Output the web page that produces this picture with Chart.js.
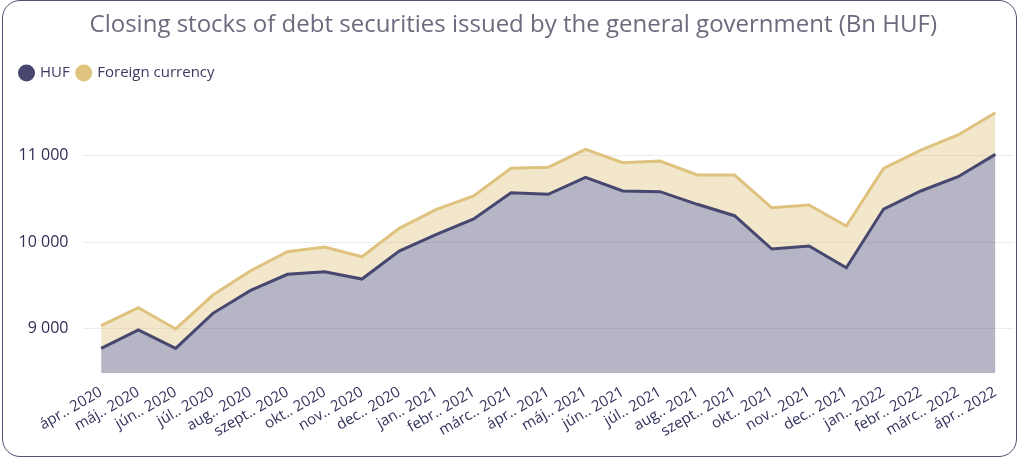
<!DOCTYPE html>
<html>
<head>
<meta charset="utf-8">
<script src="https://cdn.jsdelivr.net/npm/chart.js@4.4.1/dist/chart.umd.min.js"></script>
<style>
  html, body { margin: 0; padding: 0; background: #ffffff; }
  #frame { position: absolute; left: 2px; top: 0px; width: 1015px; height: 457px; box-sizing: border-box;
           border: 1.5px solid #4f4f74; border-radius: 18px; }
  #c { position: absolute; left: 0; top: 0; }
</style>
</head>
<body>
<div id="frame"></div>
<canvas id="c" width="1020" height="459"></canvas>
<script>
const titleText = 'Closing stocks of debt securities issued by the general government (Bn HUF)';
const categories = ['ápr.. 2020','máj.. 2020','jún.. 2020','júl.. 2020','aug.. 2020','szept.. 2020','okt.. 2020','nov.. 2020','dec.. 2020','jan.. 2021','febr.. 2021','márc.. 2021','ápr.. 2021','máj.. 2021','jún.. 2021','júl.. 2021','aug.. 2021','szept.. 2021','okt.. 2021','nov.. 2021','dec.. 2021','jan.. 2022','febr.. 2022','márc.. 2022','ápr.. 2022'];
const seriesNames = ['HUF', 'Foreign currency'];
const hufValues = [8773,8985,8773,9178,9440,9630,9660,9575,9899,10093,10270,10574,10555,10752,10594,10586,10440,10308,9922,9957,9706,10385,10594,10759,11018];
const foreignValues = [262,258,224,212,228,261,285,258,263,289,266,282,313,324,327,355,339,471,478,475,483,471,474,483,482];
const yTickValues = [9000, 10000, 11000];

const navy = '#474770';
const tan = '#dfc27e';

function fmt(v) { return String(v).replace(/\B(?=(\d{3})+(?!\d))/g, ' '); }

new Chart(document.getElementById('c'), {
  type: 'line',
  data: {
    labels: categories,
    datasets: [
      { label: seriesNames[0], data: hufValues, borderColor: navy, backgroundColor: 'rgba(71,71,112,0.4)',
        borderWidth: 3, pointRadius: 0, tension: 0, fill: 'start' },
      { label: seriesNames[1], data: foreignValues, borderColor: tan, backgroundColor: 'rgba(223,194,126,0.4)',
        borderWidth: 3, pointRadius: 0, tension: 0, fill: '-1' }
    ]
  },
  options: {
    responsive: false,
    animation: false,
    layout: { padding: { left: 12.5, right: 6, top: 0, bottom: 16.5 } },
    plugins: {
      title: { display: true, text: titleText, color: '#6b6b7e',
               font: { family: 'Open Sans', size: 24, weight: 'normal' }, padding: { top: 11, bottom: 17.7 } },
      legend: { display: true, align: 'start',
        labels: { usePointStyle: true, pointStyle: 'circle', boxWidth: 12, boxHeight: 12, padding: 8,
                  color: '#3a3a62', font: { family: 'Open Sans', size: 15 },
                  generateLabels: (chart) => chart.data.datasets.map((ds, i) => ({
                    text: ds.label, fillStyle: ds.borderColor, strokeStyle: ds.borderColor, lineWidth: 0,
                    pointStyle: 'circle', datasetIndex: i, hidden: false, fontColor: '#3a3a62' })) } },
      tooltip: { enabled: false }
    },
    scales: {
      x: { offset: true, grid: { display: false }, border: { display: false },
           ticks: { minRotation: 30, maxRotation: 30, autoSkip: false, color: '#33335c', padding: 2,
                    font: { family: 'Open Sans', size: 15 } } },
      y: { stacked: true, min: 8484, max: 11757,
           afterFit: (scale) => { scale.width = 70; },
           afterBuildTicks: (scale) => { scale.ticks = yTickValues.map(v => ({ value: v })); },
           grid: { color: '#ececec', lineWidth: 1, drawTicks: false }, border: { display: false },
           ticks: { color: '#2e2e56', padding: 14, font: { family: 'Open Sans', size: 16 },
                    callback: (v) => fmt(v) } }
    }
  }
});
</script>
</body>
</html>
